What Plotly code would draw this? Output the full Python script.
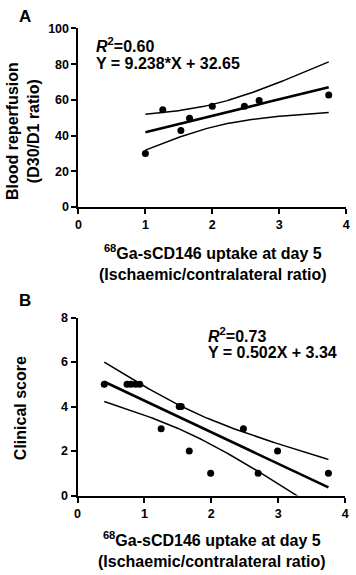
import numpy as np
import plotly.graph_objects as go

# ---- Data ----
a_x = [1.00, 1.26, 1.53, 1.66, 2.00, 2.48, 2.70, 3.74]
a_y = [30.0, 54.5, 42.8, 49.7, 56.4, 56.4, 59.6, 62.8]

b_x = [0.40, 0.74, 0.80, 0.87, 0.93, 1.25, 1.52, 1.55, 1.67, 1.99, 2.48, 2.70, 2.99, 3.75]
b_y = [5, 5, 5, 5, 5, 3, 4, 4, 2, 1, 3, 1, 2, 1]

a_text = ["<i>R</i><sup>2</sup>=0.60", "Y = 9.238*X + 32.65"]
b_text = ["<i>R</i><sup>2</sup>=0.73", "Y = 0.502X + 3.34"]

a_yticks = [0, 20, 40, 60, 80, 100]
b_yticks = [0, 2, 4, 6, 8]
xticks = [0, 1, 2, 3, 4]

x_title = "<sup>68</sup>Ga-sCD146 uptake at day 5<br>(Ischaemic/contralateral ratio)"
a_ytitle = "Blood reperfusion<br>(D30/D1 ratio)"
b_ytitle = "Clinical score"

# two-sided 95% t critical values by degrees of freedom
T95 = {6: 2.447, 12: 2.179}

W, H = 356, 575
FONT = "Liberation Sans, Arial, sans-serif"


def fit_with_ci(x, y):
    x = np.asarray(x, float)
    y = np.asarray(y, float)
    n = len(x)
    slope, icpt = np.polyfit(x, y, 1)
    resid = y - (slope * x + icpt)
    s = np.sqrt(np.sum(resid ** 2) / (n - 2))
    mx = x.mean()
    sxx = np.sum((x - mx) ** 2)
    xs = np.linspace(x.min(), x.max(), 200)
    ys = slope * xs + icpt
    half = T95[n - 2] * s * np.sqrt(1.0 / n + (xs - mx) ** 2 / sxx)
    return xs, ys, ys - half, ys + half


def px_x(p):
    return p / W


def px_y(p):
    return 1 - p / H


fig = go.Figure()

for (xd, yd, xa, ya) in [(a_x, a_y, "x", "y"), (b_x, b_y, "x2", "y2")]:
    xs, ys, lo, hi = fit_with_ci(xd, yd)
    fig.add_trace(go.Scatter(x=xs, y=hi, mode="lines", line=dict(color="black", width=1.5),
                             xaxis=xa, yaxis=ya, showlegend=False, hoverinfo="skip"))
    fig.add_trace(go.Scatter(x=xs, y=lo, mode="lines", line=dict(color="black", width=1.5),
                             xaxis=xa, yaxis=ya, showlegend=False, hoverinfo="skip"))
    fig.add_trace(go.Scatter(x=xs, y=ys, mode="lines", line=dict(color="black", width=2.6),
                             xaxis=xa, yaxis=ya, showlegend=False, hoverinfo="skip"))
    fig.add_trace(go.Scatter(x=xd, y=yd, mode="markers",
                             marker=dict(color="black", size=7),
                             xaxis=xa, yaxis=ya, showlegend=False, cliponaxis=False))

axis_common = dict(
    showgrid=False, zeroline=False, showline=True, linecolor="black", linewidth=2,
    ticks="outside", ticklen=5, tickwidth=2, tickcolor="black",
    ticklabeloverflow="allow",
    tickfont=dict(family=FONT, size=12.5, color="black", weight="bold"),
)

fig.update_layout(
    width=W, height=H,
    margin=dict(l=0, r=0, t=0, b=0),
    paper_bgcolor="white", plot_bgcolor="white",
    xaxis=dict(domain=[px_x(77), px_x(350)], range=[0, 4], tickvals=xticks, anchor="y", **axis_common),
    yaxis=dict(domain=[px_y(205), px_y(22)], range=[0, 100], tickvals=a_yticks, anchor="x", **axis_common),
    xaxis2=dict(domain=[px_x(76), px_x(349)], range=[0, 4], tickvals=xticks, anchor="y2", **axis_common),
    yaxis2=dict(domain=[px_y(500.7), px_y(318.3)], range=[0, 8], tickvals=b_yticks, anchor="x2", **axis_common),
)

tfont = dict(family=FONT, size=16, color="black", weight="bold")
anns = [
    dict(text="A", x=px_x(22), y=px_y(10), xanchor="center", yanchor="middle",
         font=dict(family=FONT, size=17, color="black", weight="bold")),
    dict(text="B", x=px_x(22), y=px_y(301), xanchor="center", yanchor="middle",
         font=dict(family=FONT, size=17, color="black", weight="bold")),
    dict(text=x_title, x=px_x(214), y=px_y(262), xanchor="center", yanchor="middle", font=tfont),
    dict(text=x_title, x=px_x(213), y=px_y(556), xanchor="center", yanchor="middle", font=tfont),
    dict(text=a_ytitle, x=px_x(20.5), y=px_y(127), xanchor="center", yanchor="middle",
         textangle=-90, font=tfont),
    dict(text=b_ytitle, x=px_x(18.5), y=px_y(411), xanchor="center", yanchor="middle",
         textangle=-90, font=tfont),
    dict(text=a_text[0], x=px_x(93), y=px_y(39), xanchor="left", yanchor="middle", font=tfont),
    dict(text=a_text[1], x=px_x(93), y=px_y(58), xanchor="left", yanchor="middle", font=tfont),
    dict(text=b_text[0], x=px_x(207), y=px_y(336), xanchor="left", yanchor="middle", font=tfont),
    dict(text=b_text[1], x=px_x(207), y=px_y(354), xanchor="left", yanchor="middle", font=tfont),
]
for a in anns:
    a.update(xref="paper", yref="paper", showarrow=False)
fig.update_layout(annotations=anns)

fig.write_html(
    "out.html",
    config={"displayModeBar": False},
    post_script="document.body.style.margin='0';document.body.style.overflow='hidden';",
)
